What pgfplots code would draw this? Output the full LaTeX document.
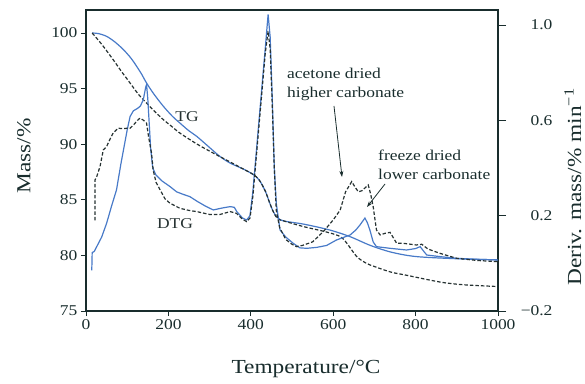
\documentclass[border=0pt]{standalone}
\usepackage{fontspec}
\setmainfont[FakeStretch=1.17]{Liberation Serif}
\usepackage{pgfplots}
\pgfplotsset{compat=1.18}
\usetikzlibrary{arrows.meta}
\definecolor{tgblue}{RGB}{72,122,200}
\definecolor{dk}{RGB}{38,50,50}
\definecolor{axc}{RGB}{25,45,45}

\begin{document}
\begin{tikzpicture}
\path[use as bounding box] (-86bp,-73bp) rectangle (499bp,311bp);
\begin{axis}[
  at={(0,0)}, anchor=south west, scale only axis,
  width=412bp, height=301bp,
  xmin=0, xmax=1000, ymin=75, ymax=102.07,
  xtick={0,200,400,600,800,1000}, ytick={75,80,85,90,95,100},
  xtick pos=bottom, ytick pos=left, tick align=outside,
  major tick length=5bp,
  axis line style={axc, line width=1.3bp},
  tick style={axc, line width=1bp},
  ticklabel style={font=\fontsize{15}{18}\selectfont, text=axc},
  /pgf/number format/assume math mode=true,
  /pgf/number format/1000 sep={},
]
% TG freeze dried (blue)
\addplot[tgblue, line width=1.2bp, smooth] coordinates {
(15,100.0) (30,99.95) (50,99.7) (70,99.2) (91,98.5) (110,97.7) (123,97.0) (135,96.3)
(147,95.5) (165,94.5) (188,93.4) (210,92.5) (228,91.9) (250,91.2) (269,90.7) (300,89.7)
(325,88.9) (350,88.3) (380,87.8) (405,87.3) (420,86.8) (435,85.8) (445,84.8) (455,83.9)
(465,83.4) (480,83.1) (530,82.8) (590,82.3) (640,81.7) (690,80.9) (740,80.3) (800,79.9)
(900,79.7) (1000,79.6)};
% TG acetone dried (black dashed)
\addplot[dk, line width=1.2bp, dash pattern=on 3.5bp off 2bp, smooth] coordinates {
(15,100) (22,99.7) (40,98.9) (66,97.6) (85,96.6) (107,95.5) (127,94.5) (147,93.7)
(168,92.9) (188,92.2) (208,91.6) (228,91.0) (270,90.0) (309,89.2) (350,88.4) (380,87.8)
(405,87.3) (420,86.8) (435,85.8) (445,84.8) (455,83.9) (465,83.3) (480,83.1) (527,82.6)
(584,82.1) (617,81.7) (633,81.1) (657,79.9) (680,79.3) (700,79.0) (740,78.5) (780,78.2)
(860,77.6) (920,77.35) (1000,77.2)};
\end{axis}
\begin{axis}[
  at={(0,0)}, anchor=south west, scale only axis,
  width=412bp, height=301bp,
  xmin=0, xmax=1000, ymin=-0.2, ymax=1.063,
  axis x line=none, axis y line*=right,
  ytick={-0.2,0.2,0.6,1.0}, yticklabels={−0.2,0.2,0.6,1.0},
  tick align=outside, major tick length=8bp,
  axis line style={axc, line width=1.3bp},
  tick style={axc, line width=1bp},
  ticklabel style={font=\fontsize{15}{18}\selectfont, text=axc},
  yticklabel style={anchor=east, xshift=50bp},
]
% DTG freeze dried (blue)
\addplot[tgblue, line width=1.2bp] coordinates {
(14,-0.03) (15,0.045) (20,0.05) (26,0.07) (38,0.11) (50,0.168) (62,0.24) (74,0.308)
(85,0.42) (91,0.476) (100,0.56) (107,0.616) (115,0.64) (125,0.65) (132,0.66) (139,0.686)
(145,0.74) (147,0.75) (150,0.69) (153,0.60) (157,0.48) (162,0.40) (170,0.37) (185,0.345)
(204,0.322) (220,0.30) (235,0.29) (252,0.28) (270,0.26) (290,0.24) (309,0.224) (330,0.232)
(350,0.238) (360,0.235) (366,0.217) (380,0.19) (390,0.182) (398,0.20) (405,0.30) (415,0.50)
(425,0.70) (435,0.90) (442,1.044) (447,0.95) (452,0.70) (457,0.40) (462,0.25) (471,0.14)
(485,0.11) (503,0.084) (519,0.065) (536,0.063) (560,0.067) (584,0.075) (608,0.098)
(641,0.119) (655,0.14) (665,0.161) (677,0.19) (683,0.17) (689,0.14) (697,0.09) (705,0.07)
(738,0.063) (778,0.056) (800,0.062) (811,0.07) (820,0.05) (827,0.035) (860,0.028)
(900,0.021) (950,0.017) (1000,0.014)};
% DTG acetone dried (black dashed)
\addplot[dk, line width=1.2bp, dash pattern=on 3.5bp off 2bp] coordinates {
(22,0.18) (22,0.35) (26,0.364) (34,0.406) (42,0.476) (50,0.49) (58,0.52) (66,0.547)
(78,0.567) (90,0.565) (100,0.567) (107,0.567) (115,0.58) (125,0.60) (131,0.609) (140,0.60)
(147,0.588) (152,0.53) (159,0.463) (163,0.392) (170,0.34) (180,0.308) (192,0.27) (204,0.252)
(228,0.231) (250,0.222) (269,0.217) (300,0.205) (325,0.205) (350,0.217) (365,0.21)
(380,0.185) (390,0.175) (398,0.19) (405,0.28) (415,0.48) (425,0.68) (435,0.88) (442,0.974)
(447,0.90) (452,0.67) (457,0.40) (462,0.22) (470,0.15) (485,0.10) (500,0.08) (511,0.07)
(525,0.075) (550,0.09) (576,0.133) (600,0.182) (617,0.224) (630,0.30) (645,0.343)
(653,0.32) (661,0.30) (670,0.305) (685,0.329) (691,0.29) (697,0.238) (705,0.14) (714,0.119)
(726,0.126) (738,0.13) (754,0.084) (770,0.084) (802,0.077) (815,0.08) (830,0.06)
(859,0.042) (900,0.021) (950,0.012) (1000,0.007)};
\end{axis}
\begin{scope}[text=axc]
\node[rotate=90, font=\fontsize{20}{24}\selectfont] at (-62bp,155bp) {Mass/\%};
\node[rotate=90, font=\fontsize{20}{24}\selectfont] at (487bp,124bp) {Deriv. mass/\% min\textsuperscript{−1}};
\node[font=\fontsize{20}{24}\selectfont] at (220bp,-58bp) {Temperature/°C};
\node[font=\fontsize{15}{18}\selectfont, dk] at (101bp,194bp) {TG};
\node[font=\fontsize{15}{18}\selectfont, dk] at (89bp,87bp) {DTG};
\node[font=\fontsize{15}{19}\selectfont, anchor=west, align=left, inner sep=0pt] at (201bp,227bp) {acetone dried\\higher carbonate};
\node[font=\fontsize{15}{19}\selectfont, anchor=west, align=left, inner sep=0pt] at (292bp,146bp) {freeze dried\\lower carbonate};
\end{scope}
\draw[axc, line width=0.8bp, -{Stealth[length=6bp,width=4bp]}] (248bp,205bp) -- (256bp,134bp);
\draw[axc, line width=0.8bp, -{Stealth[length=6bp,width=4bp]}] (299bp,127bp) -- (281bp,104bp);
\end{tikzpicture}
\end{document}
